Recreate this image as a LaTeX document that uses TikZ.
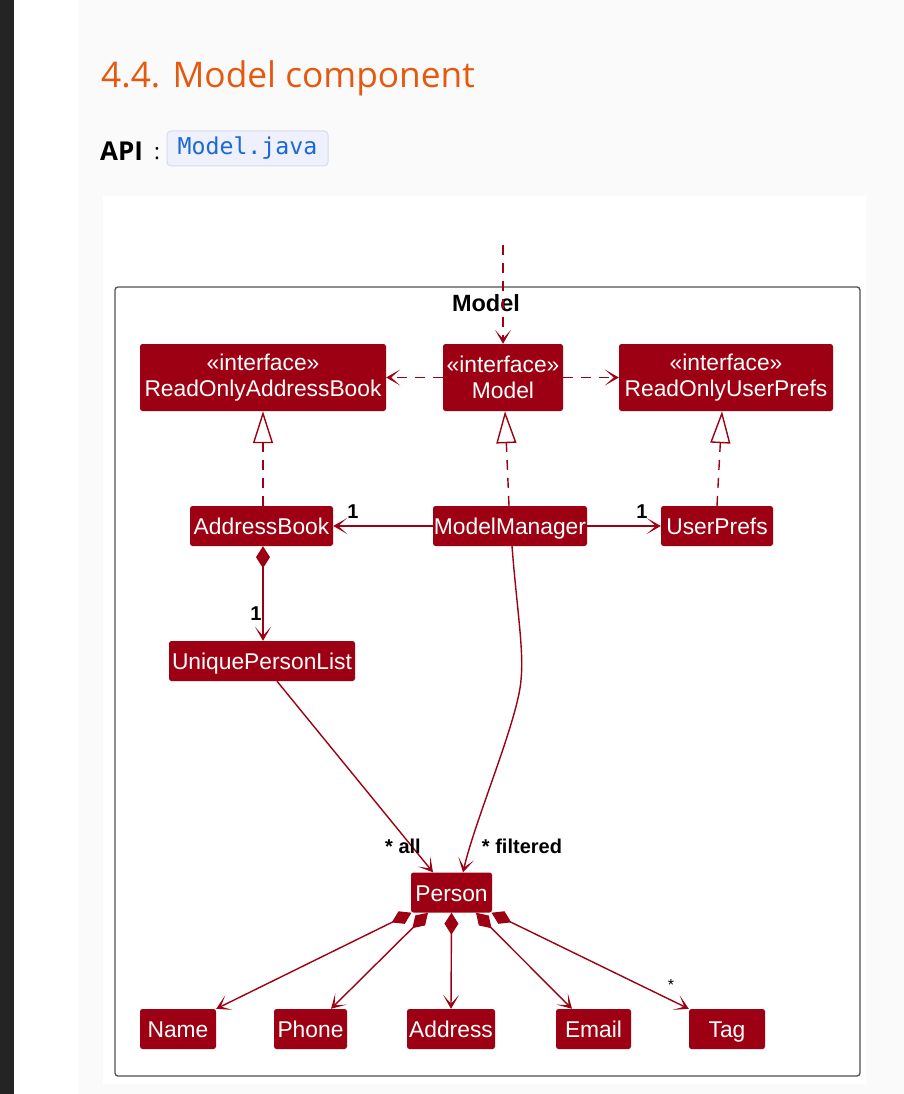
\documentclass[tikz,border=0pt]{standalone}
\usepackage{fontspec}
\setmainfont{Liberation Sans}
\newfontfamily\titlefont{Open Sans}
\newfontfamily\codefont{DejaVu Sans Mono}
\usetikzlibrary{arrows.meta,calc}

\definecolor{modelred}{HTML}{9D0012}
\definecolor{titleorange}{HTML}{E5590F}
\definecolor{pagedark}{HTML}{242424}
\definecolor{pagegray}{HTML}{FAFAFA}
\definecolor{codefill}{HTML}{EEF0FB}
\definecolor{codeborder}{HTML}{D9DCEA}
\definecolor{codeblue}{HTML}{1B68D6}
\definecolor{framegray}{HTML}{505050}

\tikzset{
  clsbase/.style={fill=modelred, text=white, rounded corners=2.5pt, inner sep=0pt,
    font=\fontsize{22.8}{26.5}\selectfont, align=center},
  cls/.style={clsbase, minimum height=40pt, text height=17pt, text depth=0pt},
  iface/.style={clsbase, minimum height=67pt},
  conn/.style={draw=modelred, line width=1.4pt},
  vtip/.style={-{Stealth[length=14pt,width=16pt,inset=9pt]}},
  dep/.style={conn, vtip, dash pattern=on 10pt off 8pt},
  real/.style={conn, dash pattern=on 10pt off 8pt,
    -{Triangle[length=32pt,width=20pt,fill=white]}},
  assoc/.style={conn, vtip},
  comp/.style={conn, {Diamond[length=22pt,width=14pt]}-{Stealth[length=14pt,width=16pt,inset=9pt]}},
  mult/.style={font=\bfseries\fontsize{20}{22}\selectfont, inner sep=0pt, text=black},
}

\begin{document}
\begin{tikzpicture}[x=1pt,y=-1pt]
\useasboundingbox (0,0) rectangle (904,1094);

% page background
\fill[pagedark] (0,0) rectangle (14,1094);
\fill[white] (14,0) rectangle (78,1094);
\fill[pagegray] (78,0) rectangle (904,1094);
\fill[white] (103,196) rectangle (866,1084);

% heading and API line
\node[anchor=base west, inner sep=0pt, text=titleorange,
  font=\titlefont\fontsize{35.3}{40}\selectfont] (title) at (101,88) {4.4. Model component};
\node[anchor=base west, inner sep=0pt,
  font=\titlefont\bfseries\fontsize{26}{28}\selectfont] (api) at (100,161) {API};
\node[anchor=base west, inner sep=0pt,
  font=\titlefont\fontsize{22}{26}\selectfont] (colon) at (154,160) {:};
\node[draw=codeborder, fill=codefill, rounded corners=4pt, line width=1pt,
  minimum width=161pt, minimum height=35pt, inner sep=0pt, text=codeblue,
  text height=16pt, text depth=3pt,
  font=\codefont\fontsize{23.2}{26}\selectfont] (code) at (247.5,148.5) {Model.java};

% package frame
\node[draw=framegray, line width=1.3pt, rounded corners=3pt,
  minimum width=745pt, minimum height=789pt, inner sep=0pt] (pkg) at (487.5,681.5) {};
\node[font=\bfseries\fontsize{23.5}{26}\selectfont, inner sep=0pt] (pkgname) at (486,303) {Model};

% classes
\node[iface, minimum width=246pt] (rab) at (263,377.5) {«interface»\\ReadOnlyAddressBook};
\node[iface, minimum width=120pt] (model) at (503,377.5) {«interface»\\Model};
\node[iface, minimum width=214pt] (roup) at (726,377.5) {«interface»\\ReadOnlyUserPrefs};
\node[cls, minimum width=143pt] (ab) at (261.5,526) {AddressBook};
\node[cls, minimum width=154pt] (mm) at (510,526) {ModelManager};
\node[cls, minimum width=112pt] (up) at (717,526) {UserPrefs};
\node[cls, minimum width=186pt] (upl) at (262,661) {UniquePersonList};
\node[cls, minimum width=81pt] (person) at (451.5,892.5) {Person};
\node[cls, minimum width=76pt] (name) at (178,1029) {Name};
\node[cls, minimum width=73pt] (phone) at (310.5,1029) {Phone};
\node[cls, minimum width=88pt] (address) at (451,1029) {Address};
\node[cls, minimum width=75pt] (email) at (593.5,1029) {Email};
\node[cls, minimum width=76pt] (tag) at (727,1029) {Tag};

% incoming dependency from outside the package
\coordinate (ext) at (503,245);
\draw[dep] (ext) -- (model.north);

% interface dependencies and realisations
\draw[dep] (model.west) -- (rab.east);
\draw[dep] (model.east) -- (roup.west);
\draw[real] ($(mm.north)+(-1,0)$) -- ($(model.south)+(2,0)$);
\draw[real] ($(ab.north)+(1.5,0)$) -- (rab.south);
\draw[real] (up.north) -- ($(roup.south)+(-4,0)$);

% associations
\draw[assoc] (mm.west) -- (ab.east);
\node[mult] (m1) at (353,512) {1};
\draw[assoc] (mm.east) -- (up.west);
\node[mult] (m2) at (642,512) {1};
\draw[comp] ($(ab.south)+(1.5,0)$) -- ($(upl.north)+(1,0)$);
\node[mult] (m3) at (256,614) {1};
\draw[assoc] ($(upl.south)+(15,0)$) -- ($(person.north)+(-18.5,0)$);
\node[mult] (mall) at (403,846) {* all};
\draw[assoc] ($(mm.south)+(2,0)$) .. controls (517,610) and (524,650) .. (521,680)
  .. controls (518,720) and (475,820) .. ($(person.north)+(11.5,0)$);
\node[mult] (mfilt) at (522,846) {* filtered};

% person attributes
\draw[comp] ($(person.south)+(-40,0)$) -- (name.north east);
\draw[comp] ($(person.south)+(-23.5,0)$) -- ($(phone.north)+(20.5,0)$);
\draw[comp] (person.south) -- (address.north);
\draw[comp] ($(person.south)+(24.5,0)$) -- ($(email.north)+(-21.5,0)$);
\draw[comp] ($(person.south)+(40,0)$) -- (tag.north west);
\node[font=\fontsize{16}{18}\selectfont, inner sep=0pt] (mtag) at (671,985) {*};
\end{tikzpicture}
\end{document}
